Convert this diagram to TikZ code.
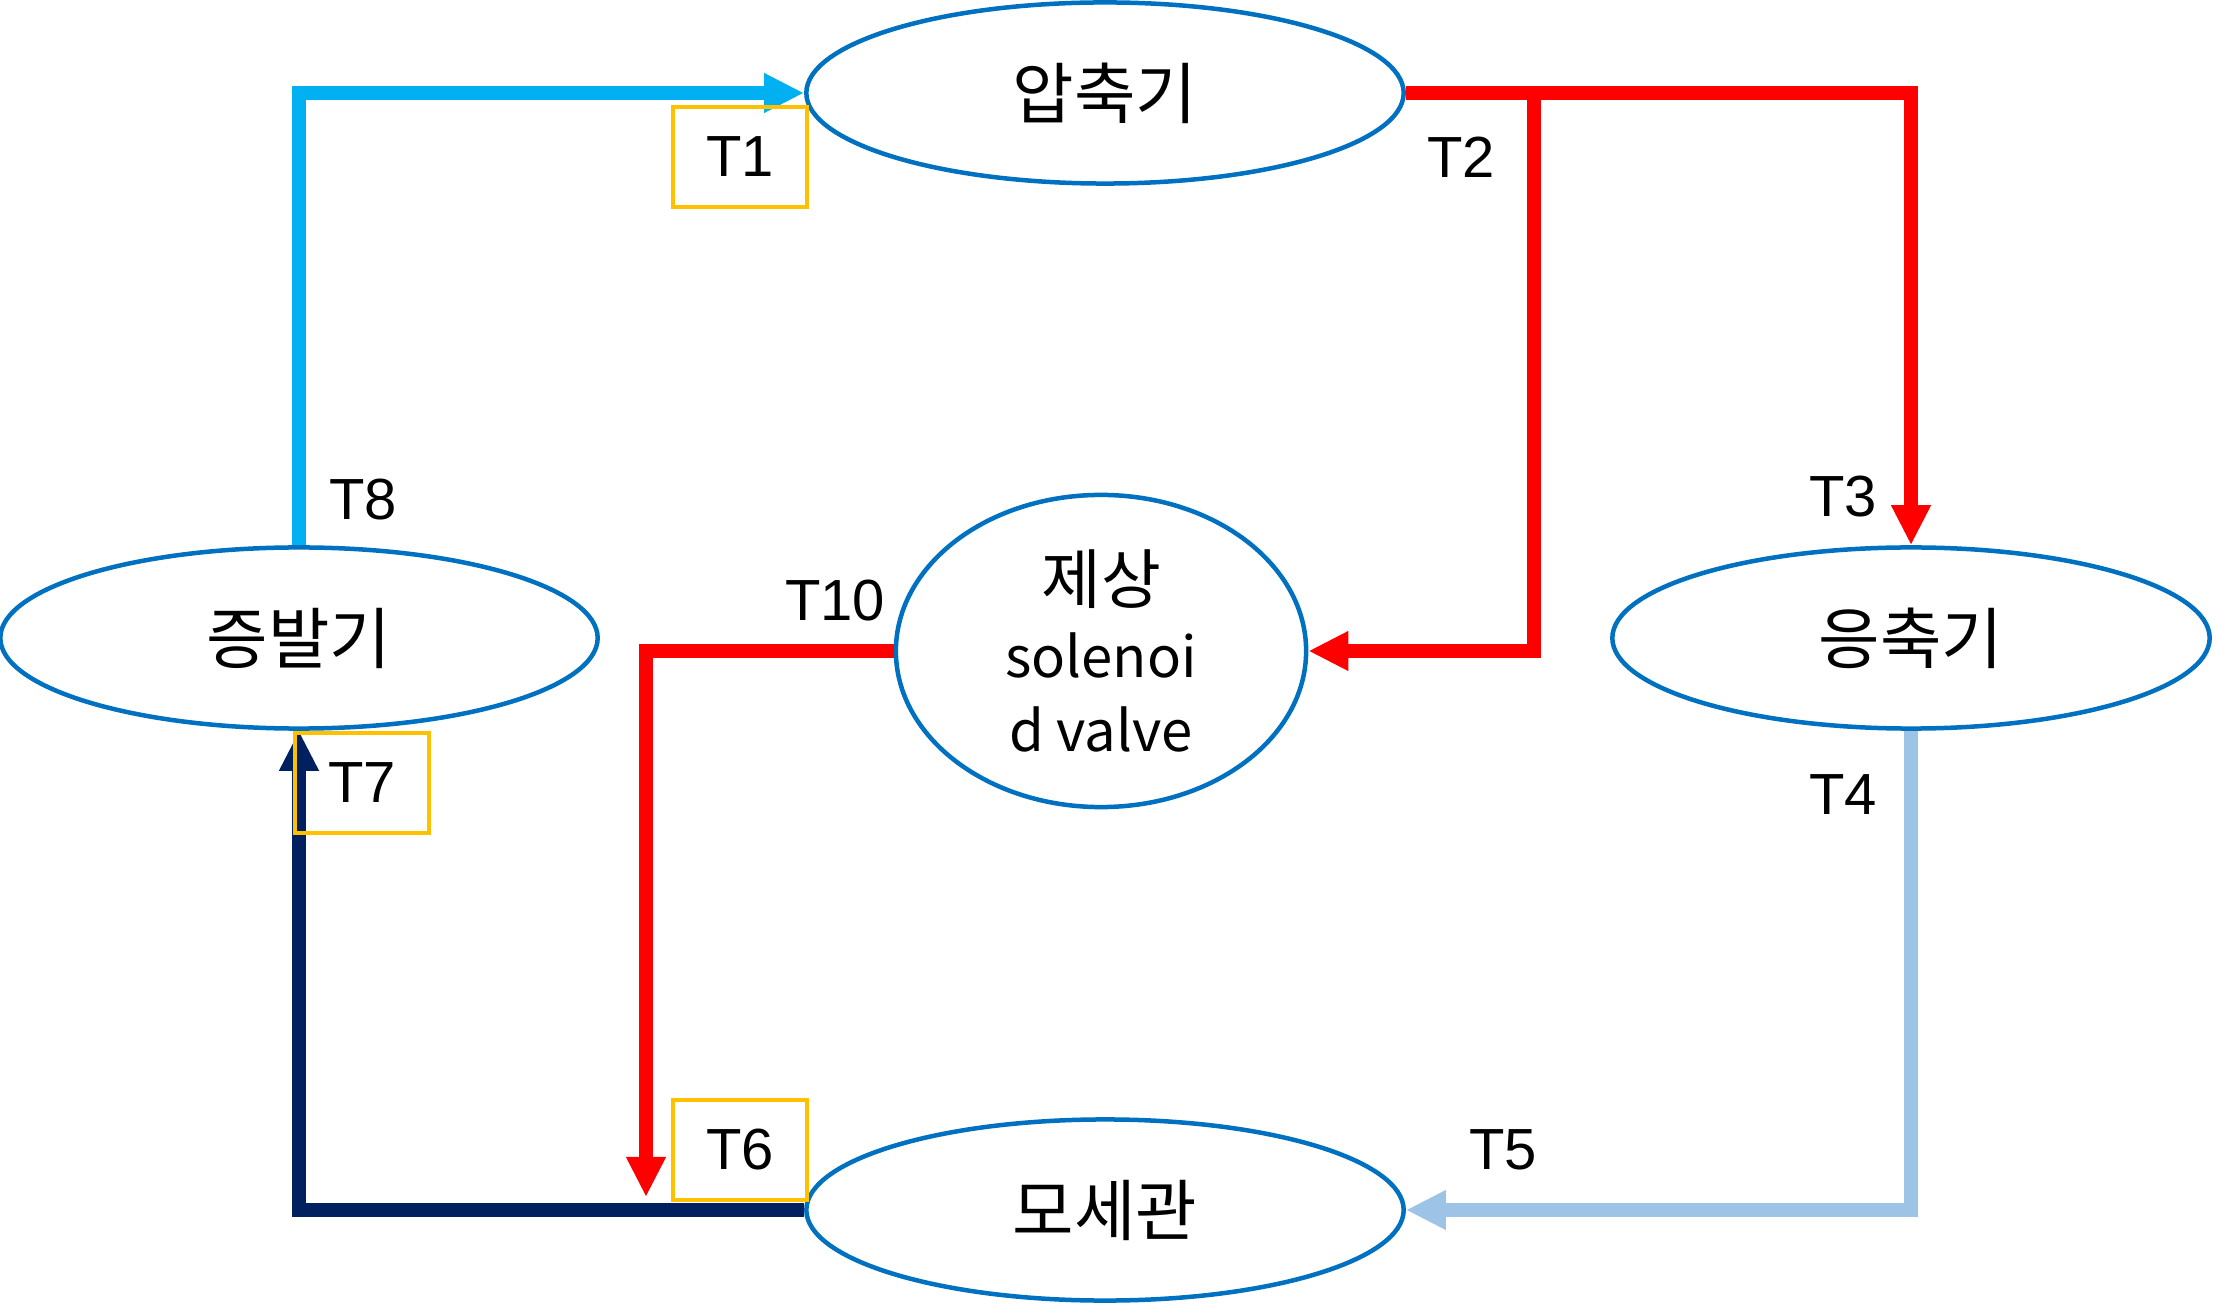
\documentclass[tikz,border=0pt]{standalone}
\usepackage{fontspec}
\setmainfont{Liberation Sans}
\newfontfamily\kor{Noto Sans CJK KR}
\usepackage{tikz}
\usetikzlibrary{shapes.geometric, arrows.meta}
\definecolor{colorPart}{HTML}{0070C0}
\definecolor{colorSuction}{HTML}{00B0F0}
\definecolor{colorHot}{HTML}{FF0000}
\definecolor{colorLiquid}{HTML}{9DC3E6}
\definecolor{colorReturn}{HTML}{002060}
\definecolor{colorProbe}{HTML}{FFC000}

\begin{document}
\begin{tikzpicture}[x=0.01cm, y=-0.01cm,
        part/.style={ellipse, draw=colorPart, line width=0.045cm, inner sep=0pt,
            minimum width=5.97cm, minimum height=1.81cm, align=center,
            font=\kor\fontsize{19}{23}\selectfont},
        probe/.style={draw=colorProbe, line width=0.04cm, inner sep=0pt,
            minimum width=1.34cm, minimum height=1.0cm, font=\fontsize{16.5}{18}\selectfont},
        tag/.style={inner sep=0pt, font=\fontsize{16.5}{18}\selectfont},
        pipe/.style={line width=0.14cm, -{Triangle[length=0.4cm, width=0.37cm]}}
    ]
        \useasboundingbox (0,0) rectangle (2213,1304);
        \node[part] (comp) at (1105,93) {압축기};
        \node[part] (evap) at (299,638) {증발기};
        \node[part] (cond) at (1911,638) {응축기};
        \node[part] (capi) at (1105,1210) {모세관};
        \node[part, minimum width=4.1cm, minimum height=3.12cm, font=\kor\fontsize{16}{21}\selectfont]
            (valve) at (1101,651) {{\fontsize{18.5}{21}\selectfont 제상}\\solenoi\\d valve};
        \coordinate (split) at (1534,93);
        \coordinate (drop) at (646,1197);
        \draw[pipe, colorSuction] (evap.north) |- (comp.west);
        \draw[pipe, colorHot] (comp.east) -| (cond.north);
        \draw[pipe, colorHot] (split) |- (valve.east);
        \draw[pipe, colorHot] (valve.west) -| (drop);
        \draw[pipe, colorLiquid] (cond.south) |- (capi.east);
        \draw[pipe, colorReturn] (capi.west) -| (evap.south);
        \node[probe] (t1) at (740,157) {T1};
        \node[probe] (t6) at (740,1150) {T6};
        \node[probe] (t7) at (362,783) {T7};
        \node[tag] (t2) at (1461,157) {T2};
        \node[tag] (t3) at (1843,497) {T3};
        \node[tag] (t4) at (1843,795) {T4};
        \node[tag] (t5) at (1503,1150) {T5};
        \node[tag] (t8) at (363,500) {T8};
        \node[tag] (t10) at (835,601) {T10};
    \end{tikzpicture}
\end{document}
